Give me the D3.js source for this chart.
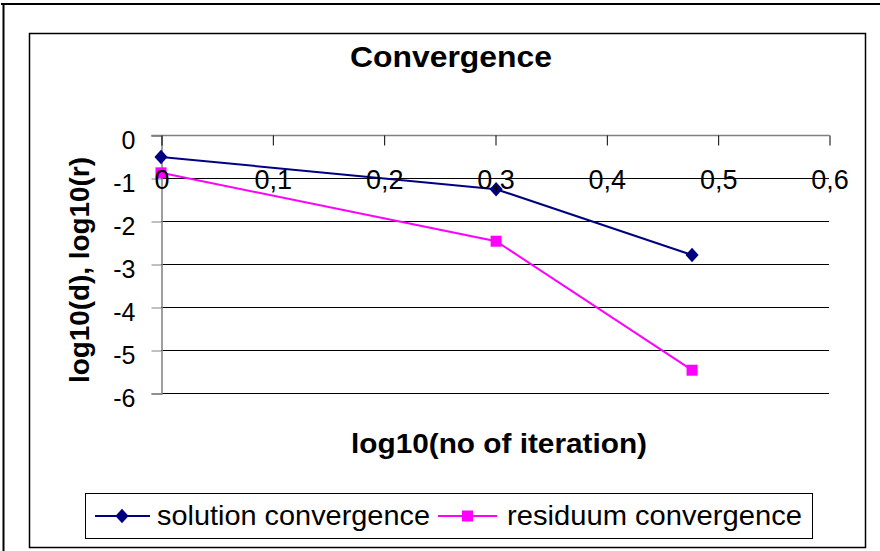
<!DOCTYPE html>
<html lang="en">
<head>
	<meta charset="utf-8">
	<title>Convergence</title>
	<script src="https://d3js.org/d3.v7.min.js"></script>
	<style>
		body { margin:0; background:#fff; }
		svg text { font-family: "Liberation Sans", Arial, sans-serif; fill:#000; }
	</style>
</head>
<body>
<div id="chart"></div>
<script>
// data
let xTicks=[0,0.1,0.2,0.3,0.4,0.5,0.6];
let xTickLabels=["0","0,1","0,2","0,3","0,4","0,5","0,6"];
let yTicks=[0,-1,-2,-3,-4,-5,-6];
let iterLog=[0,0.301,0.477];
let solution=[-0.51,-1.26,-2.79];
let residuum=[-0.88,-2.47,-5.47];
let seriesNames=["solution convergence","residuum convergence"];

let W=880,H=551;
let svg=d3.select("#chart").append("svg").attr("width",W).attr("height",H);

// frames
svg.append("path").attr("d","M1,4H880M3.5,4V551").attr("stroke","#000").attr("stroke-width",2).attr("fill","none");
svg.append("rect").attr("x",29.5).attr("y",33.5).attr("width",836).attr("height",514)
	.attr("fill","#fff").attr("stroke","#000").attr("stroke-width",1.5);

let x=d3.scaleLinear().domain([0,0.6]).range([161,829]);
let y=d3.scaleLinear().domain([0,-6]).range([135,393]);

// horizontal gridlines
svg.append("g").selectAll("line").data(yTicks.slice(1)).enter().append("line")
	.attr("x1",x(0)).attr("x2",x(0.6))
	.attr("y1",d=>Math.round(y(d))+0.5).attr("y2",d=>Math.round(y(d))+0.5)
	.attr("stroke","#000").attr("stroke-width",1);

// y axis (left ticks)
let yAxis=d3.axisLeft(y).tickValues(yTicks).tickSize(10).tickFormat(d=>d===0?"0":String(d).replace("\u2212","-"));
let gy=svg.append("g").attr("transform","translate("+(x(0)+0.5)+",0.5)").call(yAxis);
gy.select(".domain").attr("stroke","#808080").attr("stroke-width",1.5);
gy.selectAll(".tick line").attr("stroke","#808080");
gy.selectAll(".tick text").attr("font-size",25).attr("x",-26).attr("y",13).attr("dy",null);

// series
let line=d3.line().x(d=>x(d[0])).y(d=>y(d[1]));
let sol=iterLog.map((v,i)=>[v,solution[i]]);
let res=iterLog.map((v,i)=>[v,residuum[i]]);

svg.append("path").datum(sol).attr("d",line).attr("fill","none").attr("stroke","#000080").attr("stroke-width",2);
svg.append("g").selectAll("path").data(sol).enter().append("path")
	.attr("d",d3.symbol(d3.symbolDiamond2,110))
	.attr("transform",d=>"translate("+x(d[0])+","+y(d[1])+") scale(1,1.1)")
	.attr("fill","#000080");

svg.append("path").datum(res).attr("d",line).attr("fill","none").attr("stroke","#ff00ff").attr("stroke-width",2);
svg.append("g").selectAll("rect").data(res).enter().append("rect")
	.attr("x",d=>x(d[0])-5.5).attr("y",d=>y(d[1])-5.5).attr("width",11).attr("height",11)
	.attr("fill","#ff00ff");

// x axis at y=0, ticks down, labels lower (drawn over the series)
let xAxis=d3.axisBottom(x).tickValues(xTicks).tickSize(10).tickFormat((d,i)=>xTickLabels[i]);
let gx=svg.append("g").attr("transform","translate(0.5,"+(y(0)+0.5)+")").call(xAxis);
gx.select(".domain").attr("stroke","#808080").attr("stroke-width",1.5).attr("d","M"+(x(0)-10)+",0H"+x(0.6));
gx.selectAll(".tick line").attr("stroke","#000");
gx.selectAll(".tick text").attr("font-size",27).attr("y",53).attr("dy",null);

// titles
svg.append("text").attr("x",451).attr("y",67).attr("text-anchor","middle")
	.attr("font-size",30).attr("font-weight","bold")
	.attr("textLength",202).attr("lengthAdjust","spacingAndGlyphs").text("Convergence");
svg.append("text").attr("transform","translate(89,270) rotate(-90)").attr("text-anchor","middle")
	.attr("font-size",28).attr("font-weight","bold")
	.attr("textLength",226).attr("lengthAdjust","spacingAndGlyphs").text("log10(d), log10(r)");
svg.append("text").attr("x",499).attr("y",453).attr("text-anchor","middle")
	.attr("font-size",28).attr("font-weight","bold")
	.attr("textLength",296).attr("lengthAdjust","spacingAndGlyphs").text("log10(no of iteration)");

// legend
let lg=svg.append("g");
lg.append("rect").attr("x",85.5).attr("y",493.5).attr("width",727).attr("height",45)
	.attr("fill","#fff").attr("stroke","#000").attr("stroke-width",1);
let ly=516;
lg.append("line").attr("x1",95).attr("x2",150).attr("y1",ly).attr("y2",ly).attr("stroke","#000080").attr("stroke-width",2);
lg.append("path").attr("d",d3.symbol(d3.symbolDiamond2,110)).attr("transform","translate(122,"+ly+") scale(1,1.1)").attr("fill","#000080");
lg.append("text").attr("x",157).attr("y",ly+9).attr("font-size",28)
	.attr("textLength",273).attr("lengthAdjust","spacingAndGlyphs").text(seriesNames[0]);
lg.append("line").attr("x1",438).attr("x2",497).attr("y1",ly).attr("y2",ly).attr("stroke","#ff00ff").attr("stroke-width",2);
lg.append("rect").attr("x",462).attr("y",ly-5.5).attr("width",11).attr("height",11).attr("fill","#ff00ff");
lg.append("text").attr("x",507).attr("y",ly+9).attr("font-size",28)
	.attr("textLength",295).attr("lengthAdjust","spacingAndGlyphs").text(seriesNames[1]);
</script>
</body>
</html>
